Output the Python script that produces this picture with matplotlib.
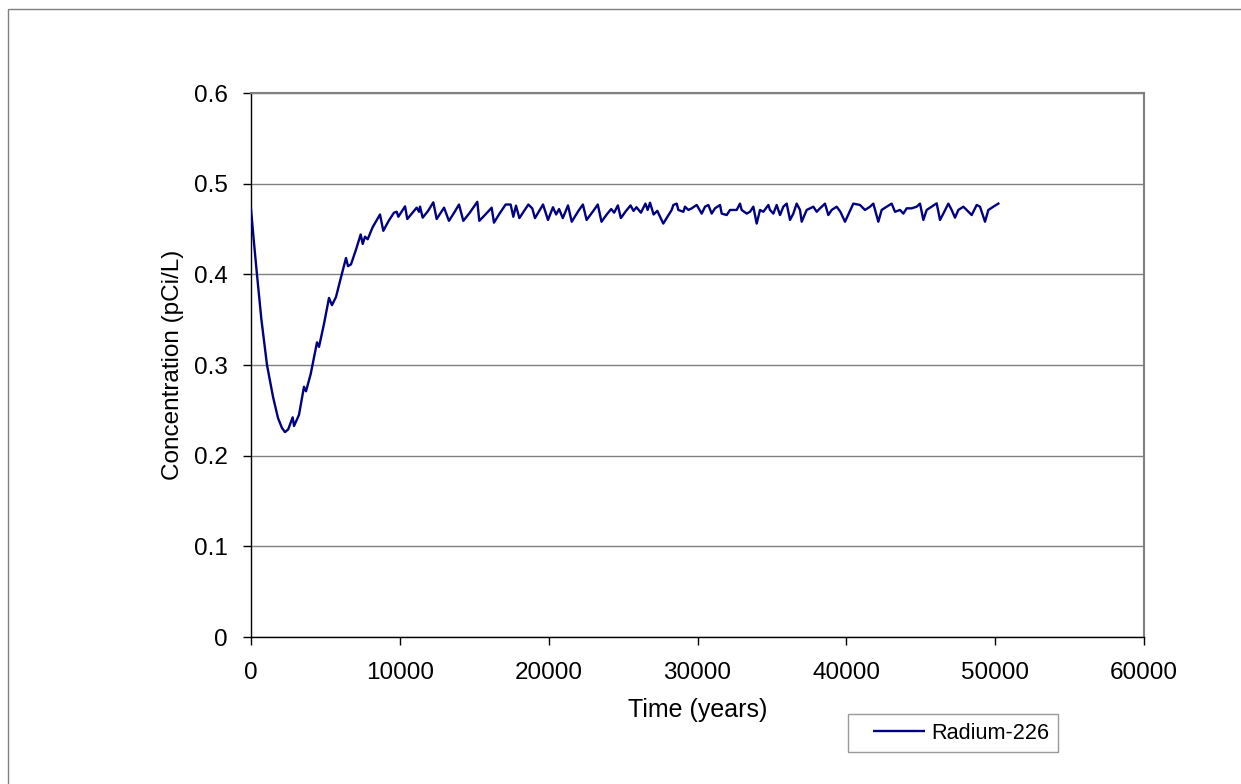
import matplotlib
matplotlib.use("Agg")
import matplotlib.pyplot as plt
from matplotlib.patches import Rectangle
from matplotlib.lines import Line2D

# Radium-226 concentration
anos = [0, 200, 400, 700, 1075, 1478, 1814, 2083, 2284, 2500, 2800, 2890, 3225, 3560, 3695,
        4010, 4435, 4570, 4900, 5240, 5440, 5710, 6050, 6383, 6517, 6718, 7050, 7370, 7505,
        7660, 7840, 8175, 8667, 8890, 9250, 9608, 9790, 9900,
        10350, 10500, 10800, 11130, 11290, 11355, 11535, 11900, 12250, 12475, 12970, 13300,
        13650, 13975, 14265, 14700, 15205, 15340, 15750, 16170, 16325, 16700, 17110, 17445,
        17625, 17805, 18030, 18635, 18900, 19080, 19620, 19955, 20290, 20500, 20700, 20950,
        21300, 21550, 22000, 22300, 22550, 23000, 23300, 23550, 23900, 24200, 24400, 24650,
        24850, 25200, 25500, 25700, 25900, 26200, 26500, 26650, 26810, 27050, 27300,
        27700, 28265, 28378, 28602, 28714, 29050, 29162, 29386, 29610, 29946, 30282, 30505,
        30729, 30953, 31177, 31513, 31625, 31961, 32184, 32632, 32856, 32968, 33304, 33528,
        33752, 33976, 34200, 34424, 34760, 34872, 35096, 35320, 35544, 35768, 35992, 36216,
        36440, 36664, 36888, 37000, 37336, 37784, 38008, 38230, 38566, 38790, 39014, 39350,
        39600, 39910, 40470, 40918, 41254, 41590, 41814, 42150, 42374, 42710, 43046, 43270,
        43606, 43830, 44054, 44390, 44726, 44950, 45174, 45398, 45734, 46070, 46294, 46518,
        46854, 47078, 47302, 47526, 47862, 48086, 48422, 48758, 48982, 49318, 49542, 49878,
        50214]
radio = [0.472, 0.435, 0.400, 0.350, 0.300, 0.265, 0.2415, 0.2305, 0.226, 0.229, 0.2423, 0.2327,
         0.245, 0.276, 0.271, 0.290, 0.325, 0.320, 0.345, 0.374, 0.366, 0.375, 0.397, 0.418,
         0.409, 0.411, 0.427, 0.444, 0.4335, 0.4415, 0.4387, 0.452, 0.466, 0.448, 0.459, 0.468,
         0.469, 0.4635,
         0.475, 0.461, 0.467, 0.4735, 0.469, 0.4747, 0.4625, 0.470, 0.4794, 0.461, 0.4735, 0.459,
         0.468, 0.477, 0.459, 0.468, 0.480, 0.459, 0.466, 0.4735, 0.457, 0.467, 0.477, 0.477,
         0.4635, 0.4758, 0.462, 0.477, 0.4727, 0.462, 0.477, 0.460, 0.474, 0.466, 0.472, 0.462,
         0.476, 0.458, 0.470, 0.477, 0.460, 0.470, 0.477, 0.458, 0.466, 0.472, 0.468, 0.476,
         0.462, 0.470, 0.476, 0.470, 0.474, 0.468, 0.478, 0.471, 0.479, 0.466, 0.470,
         0.456, 0.471, 0.4765, 0.478, 0.471, 0.469, 0.4746, 0.471, 0.4728, 0.4765, 0.467, 0.4746,
         0.4765, 0.467, 0.4728, 0.4765, 0.467, 0.4654, 0.471, 0.471, 0.478, 0.471, 0.467, 0.469,
         0.4746, 0.456, 0.471, 0.469, 0.4765, 0.471, 0.467, 0.4765, 0.4654, 0.4746, 0.478, 0.460,
         0.467, 0.478, 0.471, 0.458, 0.471, 0.4746, 0.469, 0.4728, 0.478, 0.4654, 0.471, 0.4746,
         0.469, 0.458, 0.478, 0.4765, 0.471, 0.4746, 0.478, 0.458, 0.471, 0.4746, 0.478, 0.469,
         0.471, 0.467, 0.4728, 0.4728, 0.4746, 0.478, 0.460, 0.471, 0.4746, 0.4783, 0.460, 0.467,
         0.478, 0.471, 0.4625, 0.471, 0.4746, 0.471, 0.4654, 0.4765, 0.4746, 0.458, 0.471, 0.4746,
         0.478]

xticks = [0, 10000, 20000, 30000, 40000, 50000, 60000]
yticks = [0, 0.1, 0.2, 0.3, 0.4, 0.5, 0.6]
ytick_labels = ["0", "0.1", "0.2", "0.3", "0.4", "0.5", "0.6"]

plt.rcParams['font.family'] = ['Liberation Sans', 'DejaVu Sans']

W, H = 1241, 784
fig = plt.figure(figsize=(W / 100, H / 100), dpi=100)

# borda da area do grafico (cortada a direita e embaixo, como no original)
fig.patches.append(Rectangle((8 / W, -0.05), 1.1, 1 - 9 / H + 0.05, transform=fig.transFigure,
                             fill=False, edgecolor='#808080', linewidth=1))

ax = fig.add_axes([251 / W, (H - 637) / H, 893 / W, 544 / H])
ax.plot(anos, radio, color='#000080', linewidth=1.7, zorder=3)

ax.set_xlim(0, 60000)
ax.set_ylim(0, 0.6)
ax.set_xticks(xticks)
ax.set_xticklabels([str(t) for t in xticks])
ax.set_yticks(yticks)
ax.set_yticklabels(ytick_labels)
ax.tick_params(direction='out', length=6, width=1, colors='black', labelsize=17.5)
ax.tick_params(axis='x', pad=12)
ax.tick_params(axis='y', pad=11)

ax.grid(True, axis='y', color='#808080', linewidth=1)
ax.set_axisbelow(True)
for lado in ['top', 'right']:
    ax.spines[lado].set_color('#808080')
    ax.spines[lado].set_linewidth(1.5)
for lado in ['left', 'bottom']:
    ax.spines[lado].set_color('black')
    ax.spines[lado].set_linewidth(1)

ax.set_xlabel("Time (years)", fontsize=18, labelpad=10)
ax.set_ylabel("Concentration (pCi/L)", fontsize=17.5, labelpad=7)

# legenda no estilo Excel: espaco em branco antes do traco
handle = Line2D([], [], color='#000080', linewidth=1.7, linestyle=(0, (0, 6.8, 22, 100)))
leg = fig.legend([handle], ['Radium-226'], loc='upper left',
                 bbox_to_anchor=(848 / W, 1 - 714 / H), fontsize=15.6,
                 frameon=True, fancybox=False, shadow=False, handlelength=3.14,
                 borderpad=0.4, handletextpad=0.32, borderaxespad=0)
leg.get_frame().set_edgecolor('#808080')
leg.get_frame().set_linewidth(1)

fig.savefig("out.png", dpi=100)
